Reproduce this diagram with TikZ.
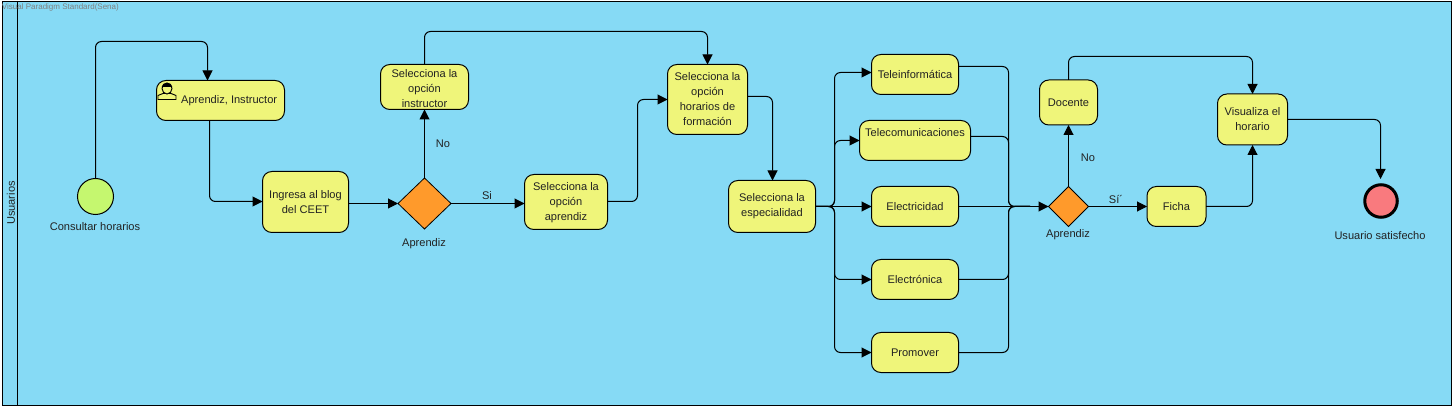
\documentclass[tikz,border=0pt]{standalone}
\usepackage{fontspec}
\setmainfont{Liberation Sans}
\usetikzlibrary{arrows.meta,shapes.geometric}
\definecolor{poolbg}{HTML}{86DAF5}
\definecolor{taskfill}{HTML}{EFF57A}
\definecolor{gatefill}{HTML}{FF9A2B}
\definecolor{startfill}{HTML}{C5F76F}
\definecolor{endfill}{HTML}{F97A7E}
\definecolor{ink}{HTML}{222222}
\tikzset{
  x=0.75pt,y=-0.75pt,
  every node/.style={font=\fontsize{8.3}{11.25}\selectfont,text=ink,outer sep=0pt},
  taskbox/.style={draw=black,line width=0.75pt,fill=taskfill,rounded corners=7pt,align=center,inner sep=0pt},
  gatebox/.style={draw=black,line width=0.6pt,fill=gatefill,diamond,inner sep=0pt,aspect=1},
  flow/.style={draw=black,line width=0.75pt,rounded corners=4.5pt,-{Triangle[length=7.5pt,width=7.5pt]}},
  plain/.style={draw=black,line width=0.75pt,rounded corners=4.5pt},
  lbl/.style={inner sep=0pt,align=center}
}
\newcommand{\task}[6]{\node[taskbox,minimum width=#4*0.75pt,minimum height=#5*0.75pt] (#1) at (#2,#3) {#6};}
\begin{document}
\begin{tikzpicture}
\useasboundingbox (0,0) rectangle (1455,409);
% pool
\node[draw=black,line width=0.75pt,fill=poolbg,minimum width=1449*0.75pt,minimum height=403*0.75pt,inner sep=0pt] (pool) at (726.5,203.5) {};
\coordinate (laneT) at (17.5,2);
\coordinate (laneB) at (17.5,405);
\draw[line width=0.75pt] (laneT) -- (laneB);
\node[lbl,rotate=90] (lane) at (11,203) {Usuarios};
\node[lbl,text=black!50,font=\fontsize{6}{8}\selectfont,anchor=west] (wm) at (2,7) {Visual Paradigm Standard(Sena)};
% events
\node[circle,draw=black,line width=0.75pt,fill=startfill,minimum size=36*0.75pt,inner sep=0pt] (start) at (95.5,196.5) {};
\node[lbl] (startl) at (95,226.5) {Consultar horarios};
\node[circle,draw=black,line width=2.25pt,fill=endfill,minimum size=32.5*0.75pt,inner sep=0pt] (end) at (1381,201) {};
\node[lbl] (endl) at (1380,235.5) {Usuario satisfecho};
% tasks
\task{apr}{220.5}{100.5}{128}{40}{\hspace*{13pt}Aprendiz, Instructor}
\task{ing}{305.5}{202}{86}{61}{Ingresa al blog\\del CEET}
\task{ins}{424.5}{87}{88}{45}{\rule{0pt}{7.6pt}Selecciona la\\opción\\instructor}
\task{sap}{566}{202}{83}{55}{\rule{0pt}{7.6pt}Selecciona la\\opción\\aprendiz}
\task{hor}{707.5}{99.5}{80}{70}{Selecciona la\\opción\\horarios de\\formación}
\task{esp}{772}{206.5}{87}{52}{Selecciona la\\especialidad}
\task{tel}{915}{74.5}{87}{40}{Teleinformática}
\task{com}{915}{140.5}{111}{40}{\rule[-12pt]{0pt}{0pt}Telecomunicaciones}
\task{ele}{915}{206.5}{87}{40}{Electricidad}
\task{eln}{915}{279.5}{87}{40}{Electrónica}
\task{pro}{915}{352.5}{87}{40}{Promover}
\task{doc}{1068.5}{102.5}{58}{45}{Docente}
\task{fic}{1176.5}{206.5}{59}{40}{Ficha}
\task{vis}{1252.5}{119.5}{70}{51}{Visualiza el\\horario}
% gateways
\node[gatebox,minimum width=53*0.75pt,minimum height=51*0.75pt] (g1) at (424.5,203.5) {};
\node[lbl] (g1l) at (424,243.5) {Aprendiz};
\node[gatebox,minimum width=40*0.75pt,minimum height=40*0.75pt] (g2) at (1068.5,206.5) {};
\node[lbl] (g2l) at (1068,234.5) {Aprendiz};
% ports off-centre
\coordinate (aprT) at (207.5,80.5);
\coordinate (aprB) at (209.5,120.5);
\coordinate (ingL) at (262.5,201.5);
\coordinate (sapR) at (607.5,201.5);
\coordinate (horR) at (747.5,96.5);
\coordinate (telR) at (958.5,66.5);
\coordinate (comR) at (970.5,136.5);
\coordinate (visR) at (1287.5,119.5);
\coordinate (endIn) at (1380.5,179);
\coordinate (j1) at (834.5,206.5);
\coordinate (j2) at (1008.5,206.5);
% connectors
\draw[flow] (start.north) -- (95.5,41.5) -- (207.5,41.5) -- (aprT);
\draw[flow] (aprB) -- (209.5,201.5) -- (ingL);
\draw[flow] (ing.east |- g1.west) -- (g1.west);
\draw[flow] (g1.north) -- (ins.south);
\draw[flow] (ins.north) -- (424.5,31.5) -- (707.5,31.5) -- (hor.north);
\draw[flow] (g1.east) -- (sap.west |- g1.east);
\draw[flow] (sapR) -- (637.5,201.5) -- (637.5,99.5) -- (hor.west |- 0,99.5);
\draw[flow] (horR) -- (772.5,96.5) -- (772.5,180.5);
\draw[flow] (esp.east) -- (ele.west);
\draw[flow] (esp.east) -- (j1) -- (834.5,72.5) -- (tel.west |- 0,72.5);
\draw[flow] (esp.east) -- (j1) -- (834.5,140.5) -- (com.west);
\draw[flow] (esp.east) -- (j1) -- (834.5,279.5) -- (eln.west);
\draw[flow] (esp.east) -- (j1) -- (834.5,352.5) -- (pro.west);
\draw[plain] (telR) -- (1008.5,66.5) -- (j2) -- (1030,206.5);
\draw[plain] (comR) -- (1008.5,136.5) -- (j2) -- (1030,206.5);
\draw[plain] (eln.east) -- (1008.5,279.5) -- (j2) -- (1030,206.5);
\draw[plain] (pro.east) -- (1008.5,352.5) -- (j2) -- (1030,206.5);
\draw[flow] (ele.east) -- (g2.west);
\draw[flow] (g2.north) -- (doc.south);
\draw[flow] (doc.north) -- (1068.5,56.5) -- (1252.5,56.5) -- (vis.north);
\draw[flow] (g2.east) -- (fic.west);
\draw[flow] (fic.east) -- (1252.5,206.5) -- (vis.south);
\draw[flow] (visR) -- (1380.5,119.5) -- (endIn);
% flow labels
\node[lbl] (lno1) at (443,143.5) {No};
\node[lbl] (lsi1) at (487,196) {Si};
\node[lbl] (lno2) at (1088,157.5) {No};
\node[lbl] (lsi2) at (1116,199.5) {Sí´};
% user icon
\fill[taskfill,draw=black,line width=0.7pt] (158,99.5) -- (158,95.5) -- (163,93.5) -- (171,93.5) -- (176,95.5) -- (176,99.5) -- cycle;
\fill[taskfill,draw=black,line width=0.7pt] (167,88.5) ellipse (5 and 5.5);
\fill[black] (161.7,87) .. controls (162,81.5) and (172,81.5) .. (172.3,87) -- cycle;
\end{tikzpicture}
\end{document}
